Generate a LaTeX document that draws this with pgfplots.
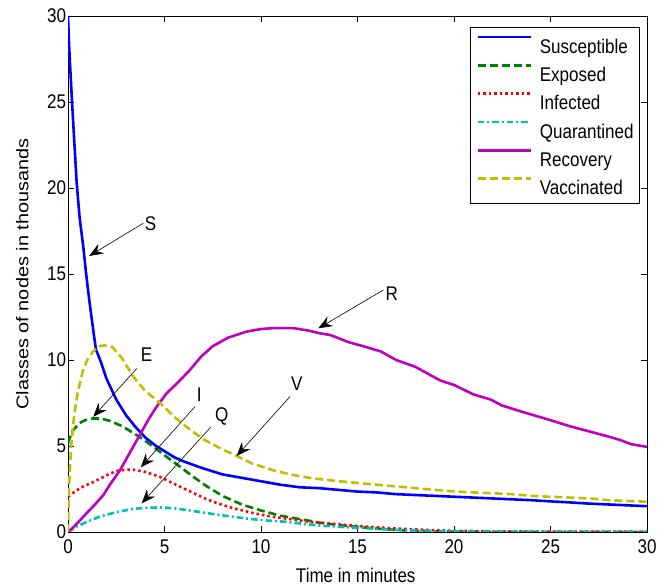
\documentclass[border=0pt]{standalone}
\usepackage{pgfplots}
\pgfplotsset{compat=1.18}
\usepackage{fontspec}
\setmainfont{Liberation Sans}[FakeStretch=0.86]
\newfontfamily\ylabfont{Liberation Sans}[FakeStretch=1.17]
\usetikzlibrary{arrows.meta}
\definecolor{mblue}{rgb}{0,0,1}
\definecolor{mgreen}{rgb}{0,0.5,0}
\definecolor{mred}{rgb}{1,0,0}
\definecolor{mcyan}{rgb}{0,0.75,0.75}
\definecolor{mmag}{rgb}{0.75,0,0.75}
\definecolor{myel}{rgb}{0.75,0.75,0}
\begin{document}
\begin{tikzpicture}[font=\fontsize{19.8bp}{22bp}\selectfont]
\begin{axis}[
  scale only axis, width=579bp, height=516bp,
  xmin=0, xmax=30, ymin=0, ymax=30,
  xtick={0,5,...,30}, ytick={0,5,...,30},
  tick align=inside, major tick length=6bp,
  axis line style={line width=0.8bp},
  every tick/.style={black, line width=0.8bp},
  /pgf/number format/assume math mode=true,
  tick label style={font=\fontsize{19.8bp}{22bp}\selectfont},
  xticklabel style={yshift=-4bp},
  yticklabel style={xshift=1.5bp},
  xlabel={Time in minutes},
  xlabel style={at={(axis description cs:0.497,0)}, anchor=base, yshift=-50.7bp},
  ylabel={\ylabfont\fontsize{17bp}{20bp}\selectfont Classes of nodes in thousands},
  ylabel style={at={(axis description cs:-0.06856,0.5)}, anchor=base},
  clip=true,
  legend style={at={(rel axis cs:0.9879,0.978)}, anchor=north east,
    draw=black, line width=0.8bp, inner xsep=6bp, inner ysep=8bp,
    nodes={inner sep=0bp, text height=14.3bp, text depth=0bp},
    row sep=10.9bp,
    /tikz/every odd column/.append style={column sep=8bp},
    font=\fontsize{19.8bp}{22bp}\selectfont},
  legend cell align=left,
  legend image code/.code={\draw[#1] (0bp,9bp) -- (52.7bp,9bp);},
]
\addplot[mblue, line width=2.6bp] coordinates {
(0,30) (0.05,28.5) (0.1,27.3) (0.2,25.2) (0.3,23.2) (0.45,20.3) (0.6,18.3) (0.8,16.5) (0.93,15.1) (1.1,13.5) (1.3,11.8) (1.45,10.6) (1.7,9.9) (2.0,8.9) (2.5,7.7) (3.0,6.8) (3.5,6.1) (4,5.5) (4.5,5.05) (5,4.7) (5.5,4.35) (6,4.1) (7,3.7) (8,3.35) (9,3.15) (10,2.95) (11,2.75) (12,2.6) (13,2.55) (14,2.45) (15,2.35) (16,2.3) (17,2.2) (18,2.15) (19,2.1) (20,2.05) (21,2.0) (22,1.95) (23,1.9) (24,1.85) (25,1.78) (26,1.72) (27,1.65) (28,1.6) (29,1.55) (30,1.5)
};
\addlegendentry{Susceptible}
\addplot[mgreen, line width=2.6bp, dash pattern=on 8bp off 4bp] coordinates {
(0,5.15) (0.1,5.5) (0.25,5.9) (0.45,6.15) (0.7,6.4) (1,6.55) (1.3,6.6) (1.7,6.6) (2.2,6.45) (2.8,6.15) (3.4,5.75) (4,5.3) (4.6,4.8) (5.2,4.3) (5.8,3.8) (6.5,3.2) (7.2,2.65) (8,2.1) (9,1.6) (10,1.25) (11,0.95) (12,0.75) (13,0.55) (14,0.4) (15,0.3) (16,0.2) (17,0.12) (18,0.07) (19,0.04) (20,0.02) (22,0.01) (25,0.0) (30,0)
};
\addlegendentry{Exposed}
\addplot[mred, line width=2.6bp, dash pattern=on 2.5bp off 3bp] coordinates {
(0,2.05) (0.3,2.3) (0.7,2.6) (1.2,2.85) (1.66,3.1) (2.1,3.35) (2.5,3.55) (3,3.62) (3.4,3.62) (4,3.5) (4.77,3.2) (5.5,2.8) (6.15,2.45) (7,2.0) (7.5,1.76) (8.5,1.4) (9.6,1.1) (10.5,0.9) (11.5,0.75) (12.5,0.6) (13.7,0.48) (15,0.35) (16,0.27) (17,0.2) (18,0.15) (19,0.1) (20,0.07) (22,0.04) (25,0.02) (30,0.01)
};
\addlegendentry{Infected}
\addplot[mcyan, line width=2.6bp, dash pattern=on 6.5bp off 3bp on 2bp off 3bp] coordinates {
(0,0) (0.5,0.35) (1,0.6) (1.66,0.9) (2.5,1.15) (3.4,1.35) (4,1.4) (4.77,1.43) (5.5,1.38) (6.15,1.28) (7,1.13) (7.8,1.0) (8.6,0.88) (9.5,0.75) (10.5,0.65) (11.2,0.6) (12,0.5) (13,0.38) (14.1,0.3) (15,0.25) (16,0.18) (17,0.12) (18,0.08) (19,0.05) (20,0.03) (22,0.02) (25,0.01) (30,0)
};
\addlegendentry{Quarantined}
\addplot[mmag, line width=2.6bp] coordinates {
(0,0) (0.3,0.3) (0.6,0.65) (0.97,1.1) (1.4,1.6) (1.83,2.15) (2.2,2.8) (2.7,3.6) (3.2,4.6) (3.7,5.6) (4.2,6.6) (4.6,7.3) (5.1,8.05) (5.7,8.7) (6.3,9.4) (6.9,10.2) (7.5,10.8) (8.3,11.3) (9.25,11.65) (10,11.8) (10.6,11.85) (11.7,11.85) (12.5,11.7) (13.06,11.55) (13.6,11.45) (14.5,11.05) (15.3,10.8) (16.2,10.5) (17,10.0) (18,9.6) (19.3,8.8) (20,8.55) (21,8.0) (21.9,7.7) (22.5,7.35) (23.5,7.0) (25,6.5) (26,6.15) (27,5.85) (28,5.55) (28.6,5.35) (29.2,5.1) (30,4.95)
};
\addlegendentry{Recovery}
\addplot[myel, line width=2.6bp, dash pattern=on 8bp off 4bp] coordinates {
(0,0) (0.05,2.5) (0.15,4.8) (0.3,6.6) (0.5,8.1) (0.75,9.3) (1.0,10.0) (1.3,10.5) (1.6,10.8) (1.9,10.85) (2.3,10.75) (2.8,10.1) (3.4,9.0) (4,8.2) (4.77,7.5) (5.5,6.7) (6.15,6.1) (7,5.4) (8,4.8) (8.6,4.5) (9.5,4.0) (10.6,3.6) (11.5,3.35) (12.5,3.15) (13.6,3.0) (15,2.85) (16,2.75) (17,2.65) (18,2.55) (19,2.45) (20.1,2.35) (21,2.3) (22,2.25) (23,2.2) (24,2.1) (25,2.05) (26,2.0) (27,1.95) (28,1.85) (29,1.8) (30,1.76)
};
\addlegendentry{Vaccinated}
% annotations
\tikzset{ann/.style={line width=0.6bp, -{Stealth[length=14bp,width=11bp,inset=5bp]}}}
\draw[ann] (axis cs:3.9,17.95) -- (axis cs:1.1,16.05);
\node[inner sep=0pt] at (axis cs:4.28,17.9) {S};
\draw[ann] (axis cs:16.34,14.07) -- (axis cs:12.97,11.84);
\node[inner sep=0pt] at (axis cs:16.77,13.88) {R};
\draw[ann] (axis cs:3.56,9.5) -- (axis cs:1.31,6.7);
\node[inner sep=0pt] at (axis cs:4.07,10.3) {E};
\draw[ann] (axis cs:6.58,7.29) -- (axis cs:3.77,3.76);
\node[inner sep=0pt] at (axis cs:6.8,7.96) {I};
\draw[ann] (axis cs:7.39,6.09) -- (axis cs:3.82,1.67);
\node[inner sep=0pt] at (axis cs:7.96,6.74) {Q};
\draw[ann] (axis cs:11.5,7.87) -- (axis cs:8.74,4.42);
\node[inner sep=0pt] at (axis cs:11.85,8.64) {V};
\end{axis}
\path ([shift={(-68bp,-51bp)}]current axis.south west) rectangle ([shift={(23bp,16bp)}]current axis.north east);
\end{tikzpicture}
\end{document}
